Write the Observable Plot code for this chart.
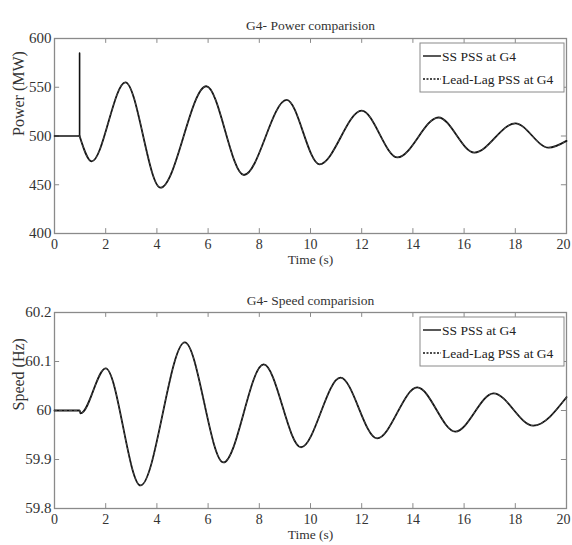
<!DOCTYPE html>
<html>
<head>
<meta charset="utf-8">
<script src="https://cdn.jsdelivr.net/npm/d3@7"></script>
<script src="https://cdn.jsdelivr.net/npm/@observablehq/plot@0.6"></script>
<style>
  html, body { margin: 0; padding: 0; background: #fff; }
  #chart { width: 572px; }
  svg { display: block; }
  svg text { font-family: 'Liberation Serif', 'DejaVu Serif', serif !important; }
</style>
</head>
<body>
<div id="chart"></div>
<script>
// ---------- data ----------
const seriesNames = ["SS PSS at G4", "Lead-Lag PSS at G4"];

// Power: pre-fault step and spike
const powerStepTime = [0, 0.98, 0.98, 0.98];
const powerStepMW   = [500, 500, 585, 500];
// Power: oscillation after disturbance (SS PSS)
const powerTime = [0.98, 1.45, 2.77, 4.14, 5.93, 7.4, 9.07, 10.35, 12.0, 13.4, 15.0, 16.4, 18.0, 19.3, 20];
const powerSS   = [500, 474, 555, 447, 551, 460, 537, 471, 526, 478, 519, 483, 513, 488, 495];
// Lead-Lag PSS (indistinguishable from SS PSS in the picture)
const powerLL   = [500, 474, 555, 447, 551, 460, 537, 471, 526, 478, 519, 483, 513, 488, 495];

// Speed
const speedTime = [0, 0.98, 1.02, 2.0, 3.36, 5.09, 6.6, 8.17, 9.63, 11.17, 12.6, 14.17, 15.66, 17.15, 18.7, 20];
const speedSS   = [60, 60, 59.994, 60.086, 59.847, 60.139, 59.894, 60.094, 59.925, 60.067, 59.943, 60.047, 59.957, 60.035, 59.969, 60.027];
const speedLL   = [60, 60, 59.994, 60.086, 59.847, 60.139, 59.894, 60.094, 59.925, 60.067, 59.943, 60.047, 59.957, 60.035, 59.969, 60.027];

const xTicks = [0, 2, 4, 6, 8, 10, 12, 14, 16, 18, 20];
const powerTicks = [400, 450, 500, 550, 600];
const speedTicks = [59.8, 59.9, 60, 60.1, 60.2];

const titles = ["G4- Power comparision", "G4- Speed comparision"];
const yLabels = ["Power (MW)", "Speed (Hz)"];
const xLabel = "Time (s)";

// ---------- helpers ----------
const FONT = "'Liberation Serif', 'DejaVu Serif', serif";
const zip = (t, v) => t.map((x, i) => ({t: x, v: v[i]}));

function panel({title, yLabel, yDomain, yTicks, yFmt, lines, step, height, marginTop, tickLenY, titleDy}) {
  const [y0, y1] = yDomain;
  const tickLenX = 0.2;
  const innerTicks = xTicks.slice(0, -1);
  const lastTick = xTicks.slice(-1);
  const marks = [
    Plot.frame({stroke: "#8a8a8a", strokeWidth: 1.3}),
    // inward ticks on all four sides
    Plot.ruleX(xTicks, {x: d => d, y1: y0, y2: y0 + tickLenY, stroke: "#8a8a8a"}),
    Plot.ruleX(xTicks, {x: d => d, y1: y1, y2: y1 - tickLenY, stroke: "#8a8a8a"}),
    Plot.ruleY(yTicks, {y: d => d, x1: 0, x2: tickLenX, stroke: "#8a8a8a"}),
    Plot.ruleY(yTicks, {y: d => d, x1: 20, x2: 20 - tickLenX, stroke: "#8a8a8a"}),
    Plot.axisX({ticks: innerTicks, tickSize: 0, tickPadding: 6, label: null, fontSize: 14, fontFamily: FONT, fill: "#333"}),
    Plot.axisX({ticks: lastTick, tickSize: 0, tickPadding: 6, label: null, fontSize: 14, fontFamily: FONT, fill: "#333", dx: -3}),
    Plot.axisY({ticks: yTicks, tickSize: 0, tickPadding: 3, tickFormat: yFmt, label: null, fontSize: 15, fontFamily: FONT, fill: "#333"}),
    Plot.text([title], {frameAnchor: "top", dy: titleDy, fontSize: 13.5, fontFamily: FONT, fill: "#333"}),
    Plot.text([xLabel], {frameAnchor: "bottom", dy: 30, fontSize: 13.5, fontFamily: FONT, fill: "#333"}),
    Plot.text([yLabel], {frameAnchor: "left", dx: -36, rotate: -90, fontSize: 16, fontFamily: FONT, fill: "#333"})
  ];
  if (step) marks.push(Plot.line(step, {x: "t", y: "v", stroke: "#111", strokeWidth: 1.6}));
  marks.push(Plot.line(lines[0], {x: "t", y: "v", curve: "monotone-x", stroke: "#111", strokeWidth: 1.8}));
  marks.push(Plot.line(lines[1], {x: "t", y: "v", curve: "monotone-x", stroke: "#666", strokeWidth: 0.7, strokeDasharray: "2,3"}));
  return Plot.plot({
    width: 572,
    height,
    marginLeft: 54,
    marginRight: 6,
    marginTop,
    marginBottom: 37,
    style: {fontFamily: FONT, background: "#fff", color: "#333"},
    x: {domain: [0, 20]},
    y: {domain: yDomain},
    marks
  });
}

function addLegend(svg, yTop) {
  const ns = "http://www.w3.org/2000/svg";
  const g = document.createElementNS(ns, "g");
  const x0 = 420, w = 144, h = 49;
  const rect = document.createElementNS(ns, "rect");
  rect.setAttribute("x", x0); rect.setAttribute("y", yTop);
  rect.setAttribute("width", w); rect.setAttribute("height", h);
  rect.setAttribute("fill", "#fff"); rect.setAttribute("stroke", "#8a8a8a"); rect.setAttribute("stroke-width", "1");
  g.appendChild(rect);
  seriesNames.forEach((name, i) => {
    const cy = yTop + 13 + i * 23;
    const ln = document.createElementNS(ns, "line");
    ln.setAttribute("x1", x0 + 3); ln.setAttribute("x2", x0 + 21);
    ln.setAttribute("y1", cy); ln.setAttribute("y2", cy);
    ln.setAttribute("stroke", "#111");
    ln.setAttribute("stroke-width", i === 0 ? 1.4 : 1.6);
    if (i === 1) ln.setAttribute("stroke-dasharray", "2,1.5");
    g.appendChild(ln);
    const tx = document.createElementNS(ns, "text");
    tx.setAttribute("x", x0 + 22); tx.setAttribute("y", cy);
    tx.setAttribute("dy", "0.35em");
    tx.setAttribute("text-anchor", "start");
    tx.setAttribute("style", "font-family: " + FONT + "; font-size: 13.5px;");
    tx.setAttribute("fill", "#222");
    tx.textContent = name;
    g.appendChild(tx);
  });
  svg.appendChild(g);
}

const powerChart = panel({
  title: titles[0], yLabel: yLabels[0],
  yDomain: [400, 600], yTicks: powerTicks, yFmt: d3.format("d"),
  lines: [zip(powerTime, powerSS), zip(powerTime, powerLL)],
  step: zip(powerStepTime, powerStepMW),
  height: 270, marginTop: 38, tickLenY: 5, titleDy: -18
});
addLegend(powerChart, 43);

const speedChart = panel({
  title: titles[1], yLabel: yLabels[1],
  yDomain: [59.8, 60.2], yTicks: speedTicks, yFmt: d => String(+d.toFixed(1)),
  lines: [zip(speedTime, speedSS), zip(speedTime, speedLL)],
  step: null,
  height: 275, marginTop: 42, tickLenY: 0.01, titleDy: -17
});
addLegend(speedChart, 47);

document.getElementById("chart").append(powerChart, speedChart);
</script>
</body>
</html>
